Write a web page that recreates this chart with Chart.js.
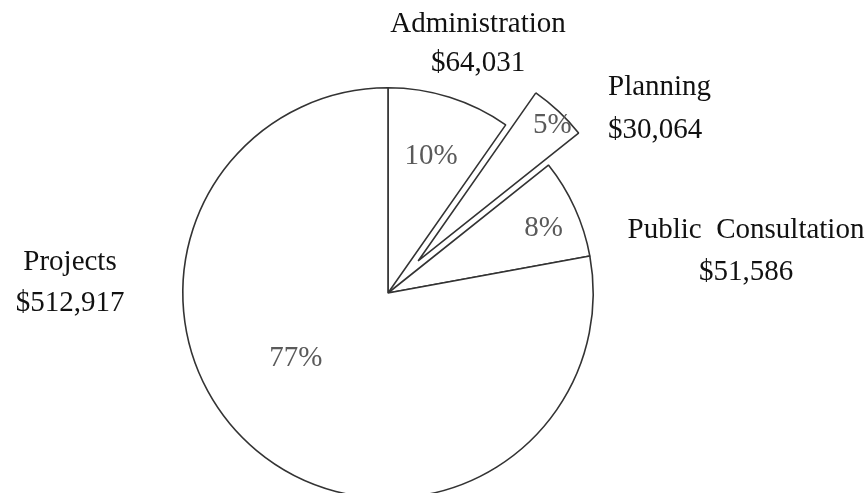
<!DOCTYPE html>
<html>
<head>
<meta charset="utf-8">
<script src="https://cdn.jsdelivr.net/npm/chart.js@4"></script>
<style>
  html, body { margin: 0; padding: 0; background: #fff; overflow: hidden; }
  #wrap { width: 868px; height: 493px; overflow: hidden; }
</style>
</head>
<body>
<div id="wrap"><canvas id="pie" width="868" height="530" style="width:868px;height:530px"></canvas></div>
<script>
// budget split
const categories = ['Administration', 'Planning', 'Public Consultation', 'Projects'];
const amounts = [64031, 30064, 51586, 512917];
const percentLabels = ['10%', '5%', '8%', '77%'];

// how far each slice is pulled out, px (only Planning)
const explode = [0, 44, 0, 0];

// where the percent text sits inside each slice: share of radius, extra turn in degrees
const pctRadius = [0.70, 0.93, 0.82, 0.55];
const pctTurn = [0, 1.5, 2, 15];

// outer name / amount labels, px from the pie centre
const outer = [
  { dx: 90, y1: -269, y2: -230, align: 'center', name: 'Administration' },
  { dx: 220, y1: -206, y2: -163, align: 'left', name: 'Planning' },
  { dx: 358, y1: -63, y2: -21, align: 'center', name: 'Public  Consultation' },
  { dx: -318, y1: -31, y2: 10, align: 'center', name: 'Projects' }
];

const money = v => '$' + v.toLocaleString('en-US');

function midAngle(arc) {
  const p = arc.getProps(['startAngle', 'endAngle'], true);
  return (p.startAngle + p.endAngle) / 2;
}

// Chart.js only moves an offset arc by a quarter of its offset and makes it
// bigger, so the pulled-out slice is drawn here with a plain shift instead
const explodePlugin = {
  id: 'explode',
  beforeDatasetDraw(chart, args) {
    const ctx = chart.ctx;
    args.meta.data.forEach((arc, i) => {
      const m = midAngle(arc);
      ctx.save();
      ctx.translate(Math.cos(m) * explode[i], Math.sin(m) * explode[i]);
      arc.draw(ctx, chart.chartArea);
      ctx.restore();
    });
    return false;
  }
};

const labelPlugin = {
  id: 'pieLabels',
  afterDatasetsDraw(chart) {
    const ctx = chart.ctx;
    const arcs = chart.getDatasetMeta(0).data;
    ctx.save();
    arcs.forEach((arc, i) => {
      const p = arc.getProps(['x', 'y', 'outerRadius'], true);
      const mid = midAngle(arc);
      const cx = p.x + Math.cos(mid) * explode[i];
      const cy = p.y + Math.sin(mid) * explode[i];
      const a = mid + pctTurn[i] * Math.PI / 180;
      const r = p.outerRadius * pctRadius[i];
      ctx.font = '29px "Liberation Serif", "Times New Roman", serif';
      ctx.fillStyle = '#5a5a5a';
      ctx.textAlign = 'center';
      ctx.textBaseline = 'middle';
      ctx.fillText(percentLabels[i], cx + Math.cos(a) * r, cy + Math.sin(a) * r);

      const o = outer[i];
      ctx.fillStyle = '#111';
      ctx.textAlign = o.align;
      ctx.fillText(o.name, p.x + o.dx, p.y + o.y1);
      ctx.fillText(money(amounts[i]), p.x + o.dx, p.y + o.y2);
    });
    ctx.restore();
  }
};

new Chart(document.getElementById('pie'), {
  type: 'pie',
  data: {
    labels: categories,
    datasets: [{
      data: amounts,
      backgroundColor: '#ffffff',
      borderColor: '#333',
      borderWidth: 1.6,
      hoverOffset: 0
    }]
  },
  options: {
    responsive: false,
    animation: false,
    // chart area 412 x 412 so the pie centre lands at (388, 293), radius 205
    layout: { padding: { left: 182, right: 274, top: 87, bottom: 31 } },
    plugins: {
      legend: { display: false },
      tooltip: { enabled: false }
    }
  },
  plugins: [explodePlugin, labelPlugin]
});
</script>
</body>
</html>
